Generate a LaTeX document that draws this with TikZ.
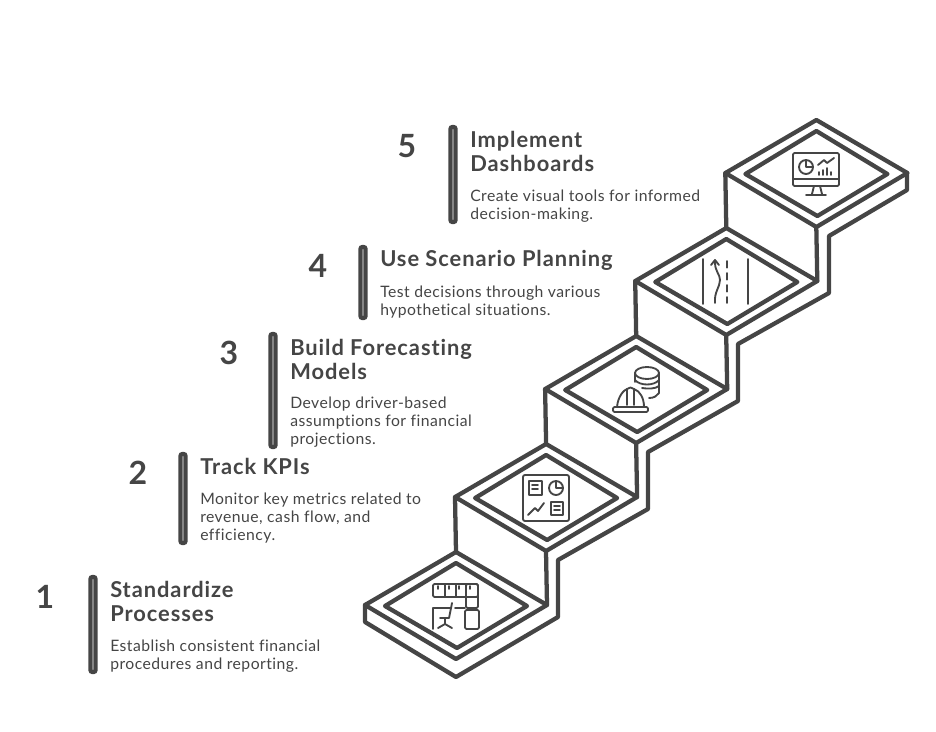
\documentclass[tikz,border=0pt]{standalone}
\usepackage{fontspec}
\setmainfont{Lato}
\newfontfamily\titlefont[LetterSpace=4.3,RawFeature=-liga]{Lato}
\newfontfamily\bodyfont[LetterSpace=3,RawFeature=-liga]{Lato}
\definecolor{ink}{HTML}{454545}
\tikzset{
  stepline/.style={draw=ink, line width=3.2pt, line join=round, line cap=round},
  iconline/.style={draw=ink, line width=1.4pt, line join=round, line cap=round},
  barline/.style={draw=ink, line width=3.2pt, rounded corners=1.5pt},
  numlabel/.style={text=ink, inner sep=0pt, font=\fontsize{24}{24}\selectfont\bfseries},
  titlelabel/.style={text=ink, inner sep=0pt, anchor=west, align=left, font=\titlefont\fontsize{16.4}{18}\selectfont\bfseries},
  bodylabel/.style={text=ink, inner sep=0pt, anchor=west, align=left, font=\bodyfont\fontsize{11.8}{13.6}\selectfont},
}
\begin{document}
\begin{tikzpicture}[x=0.75pt, y=-0.75pt]
\useasboundingbox (0,0) rectangle (936,732);

% Stairs
\foreach \i in {0,...,4} {
  \begin{scope}[shift={({\i*90.1},{-\i*108})}]
    \draw[stepline] (365,605) -- (456,552) -- (547,605) -- (456,659) -- cycle;
    \draw[stepline] (385,606) -- (456,563) -- (527,606) -- (457,648) -- cycle;
  \end{scope}
}
\foreach \i in {0,...,3} {
  \begin{scope}[shift={({\i*90.1},{-\i*108})}]
    \draw[stepline] (455,497) -- (456,552);
    \draw[stepline] (546,551) -- (547,605);
  \end{scope}
}
\draw[stepline] (365,605) -- (365,622) -- (456,677) -- (558,617) -- (558,560)
  -- (648,509) -- (648,452) -- (738,401) -- (738,344) -- (829,293) -- (829,236)
  -- (907,190) -- (907,173);

% Icon 1
\draw[iconline, rounded corners=1pt] (433,584) rectangle (478,597);
\draw[iconline, rounded corners=1pt] (466,584) rectangle (478,608);
\draw[iconline, rounded corners=1pt] (465,610) rectangle (479,629);
\foreach \x in {445,456,466} \draw[iconline] (\x,584) -- (\x,597);
\foreach \x in {438,449,459,470} \draw[iconline] (\x,586) -- (\x,589);
\draw[iconline] (433,629) -- (433,608) -- (451,608);
\draw[iconline] (455,608) -- (465,608);
\draw[iconline] (452,603) -- (449,618) -- (440,618);
\draw[iconline] (445,618) -- (445,624) (438,628) -- (445,624) -- (452,628);

% Icon 2
\draw[iconline, rounded corners=1.5pt] (523,475) rectangle (569,521);
\draw[iconline] (529,481) rectangle (542,495);
\draw[iconline] (532,485) -- (538,485) (532,489) -- (538,489);
\draw[iconline] (556,488) circle[radius=7];
\draw[iconline] (556,481) -- (556,488) -- (563,488);
\draw[iconline] (528,515) -- (535,508) -- (538,511) -- (544,503);
\draw[iconline] (551,502) rectangle (563,515);
\draw[iconline] (554,506) -- (560,506) (554,510) -- (560,510);

% Icon 3
\draw[iconline] (647,373) ellipse[x radius=12, y radius=6];
\draw[iconline] (635,373) -- (635,382);
\draw[iconline] (659,373) -- (659,393);
\draw[iconline] (635,380) .. controls (640,386) and (654,386) .. (659,380);
\draw[iconline] (642,388) .. controls (648,389) and (655,389) .. (659,386);
\draw[iconline] (649,398) .. controls (654,398) and (657,396) .. (659,393);
\draw[iconline, rounded corners=1pt] (613,407) rectangle (648,412);
\draw[iconline] (617,407) .. controls (618,396) and (624,390) .. (627,389);
\draw[iconline] (634,389) .. controls (640,391) and (644,398) .. (644,407);
\draw[iconline] (627,405) -- (627,389) .. controls (629,387) and (632,387) .. (634,389) -- (634,405);

% Icon 4
\draw[iconline] (703,259) -- (703,304);
\draw[iconline] (748,259) -- (748,304);
\draw[iconline, dash pattern=on 5pt off 4pt] (727,261) -- (727,303);
\draw[iconline] (715,303) .. controls (714,292) and (720,287) .. (720,280)
  .. controls (720,274) and (715,272) .. (715,262);
\draw[iconline] (711,265) -- (715,260) -- (719,265);

% Icon 5
\draw[iconline, rounded corners=1pt] (793,153) rectangle (839,186);
\draw[iconline] (793,179) -- (839,179);
\draw[iconline] (814,186) -- (812,194) (820,186) -- (822,194);
\draw[iconline] (806,195) -- (826,195);
\draw[iconline] (806,167) circle[radius=7];
\draw[iconline] (806,160) -- (806,167) -- (813,167);
\draw[iconline] (818,165) -- (824,160) -- (827,163) -- (834,158);
\draw[iconline] (819,175) -- (819,172) (823,175) -- (823,170) (827,175) -- (827,168) (831,175) -- (831,172);

% Step 1
\node[numlabel] (num1) at (45,597) {1};
\draw[barline] (90.5,577) rectangle (95.5,672);
\node[titlelabel] (title1) at (110,601) {Standardize\\Processes};
\node[bodylabel] (text1) at (110,656) {Establish consistent financial\\procedures and reporting.};

% Step 2
\node[numlabel] (num2) at (138,473) {2};
\draw[barline] (180.5,454) rectangle (185.5,543);
\node[titlelabel] (title2) at (200,466) {Track KPIs};
\node[bodylabel] (text2) at (200,518) {Monitor key metrics related to\\revenue, cash flow, and\\efficiency.};

% Step 3
\node[numlabel] (num3) at (229,353) {3};
\draw[barline] (270.5,334) rectangle (275.5,447);
\node[titlelabel] (title3) at (290,359) {Build Forecasting\\Models};
\node[bodylabel] (text3) at (290,422) {Develop driver-based\\assumptions for financial\\projections.};

% Step 4
\node[numlabel] (num4) at (318,266) {4};
\draw[barline] (360.5,247) rectangle (365.5,318);
\node[titlelabel] (title4) at (380,260) {Use Scenario Planning};
\node[bodylabel] (text4) at (380,302) {Test decisions through various\\hypothetical situations.};

% Step 5
\node[numlabel] (num5) at (407,146) {5};
\draw[barline] (450.5,127) rectangle (455.5,222);
\node[titlelabel] (title5) at (470,151) {Implement\\Dashboards};
\node[bodylabel] (text5) at (470,206) {Create visual tools for informed\\decision-making.};

\end{tikzpicture}
\end{document}
